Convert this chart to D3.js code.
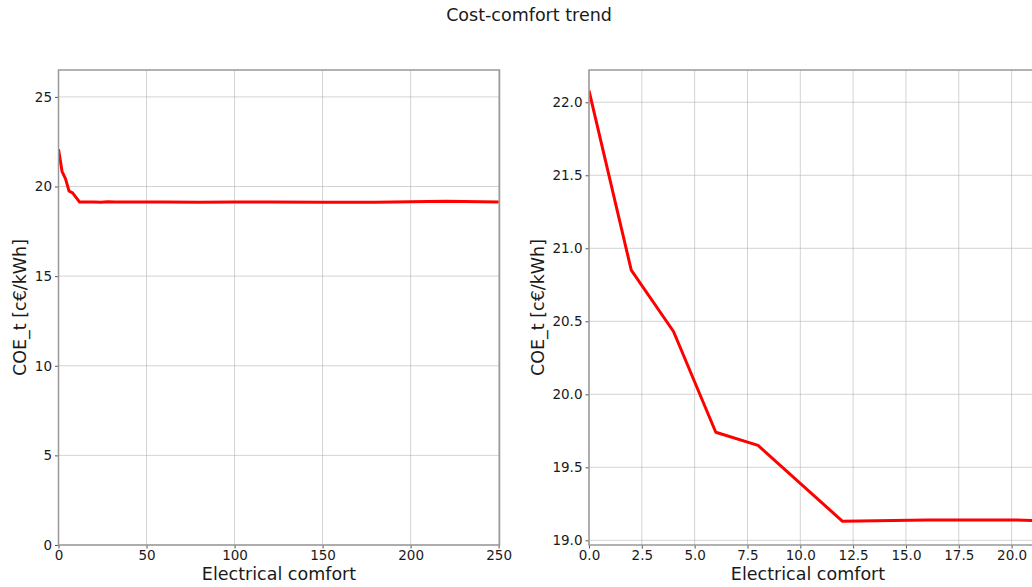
<!DOCTYPE html>
<html>
<head>
<meta charset="utf-8">
<script src="https://cdn.jsdelivr.net/npm/d3@7"></script>
<style>
body { margin: 0; background: #fff; overflow: hidden; }
svg text { font-family: "DejaVu Sans", sans-serif; fill: #1a1a1a; }
.grid line { stroke: #b0b0b0; stroke-opacity: 0.7; stroke-width: 0.8; }
.axis path { display: none; }
.axis line { stroke: #555; }
.axis text { font-size: 13.5px; }
</style>
</head>
<body>
<div id="chart"></div>
<script>
// comfort levels and cost of energy
var comfort = [0, 2, 4, 6, 8, 12, 16, 20, 24, 28, 32, 40, 50, 60, 80, 100, 120, 150, 180, 200, 220, 250];
var coe = [22.08, 20.85, 20.43, 19.74, 19.65, 19.13, 19.14, 19.14, 19.12, 19.15, 19.14, 19.13, 19.13, 19.13, 19.12, 19.13, 19.13, 19.12, 19.12, 19.15, 19.18, 19.13];

var leftXTicks = [0, 50, 100, 150, 200, 250];
var leftYTicks = [0, 5, 10, 15, 20, 25];
var rightXTicks = [0, 2.5, 5, 7.5, 10, 12.5, 15, 17.5, 20];
var rightYTicks = [19.0, 19.5, 20.0, 20.5, 21.0, 21.5, 22.0];

var W = 1032, H = 587;
var svg = d3.select('#chart').append('svg')
	.attr('width', W)
	.attr('height', H);

svg.append('text')
	.attr('x', 529)
	.attr('y', 21)
	.attr('text-anchor', 'middle')
	.style('font-size', '17.5px')
	.text('Cost-comfort trend');

var data = comfort.map(function(c, i) { return {x: c, y: coe[i]}; });

function panel(opt) {
	var scaleX = d3.scaleLinear().domain(opt.xDomain).range([0, opt.w]);
	var scaleY = d3.scaleLinear().domain(opt.yDomain).range([opt.h, 0]);

	var g = svg.append('g')
		.attr('transform', 'translate(' + opt.l + ',' + opt.t + ')');

	g.append('clipPath').attr('id', opt.id)
		.append('rect').attr('width', opt.w).attr('height', opt.h);

	// grid
	var grid = g.append('g').attr('class', 'grid');
	grid.selectAll('.gx').data(opt.xTicks).enter().append('line')
		.attr('x1', function(d) { return scaleX(d); })
		.attr('x2', function(d) { return scaleX(d); })
		.attr('y1', 0).attr('y2', opt.h);
	grid.selectAll('.gy').data(opt.yTicks).enter().append('line')
		.attr('y1', function(d) { return scaleY(d); })
		.attr('y2', function(d) { return scaleY(d); })
		.attr('x1', 0).attr('x2', opt.w);

	var axisX = d3.axisBottom(scaleX)
		.tickValues(opt.xTicks)
		.tickSize(3.5)
		.tickPadding(2)
		.tickFormat(opt.xFmt);
	var axisY = d3.axisLeft(scaleY)
		.tickValues(opt.yTicks)
		.tickSize(3.5)
		.tickPadding(3)
		.tickFormat(opt.yFmt);

	g.append('g').attr('class', 'axis')
		.attr('transform', 'translate(0,' + opt.h + ')')
		.call(axisX)
		.selectAll('text').style('fill', '#1a1a1a');
	g.append('g').attr('class', 'axis')
		.call(axisY)
		.selectAll('text').style('fill', '#1a1a1a');

	var line = d3.line()
		.x(function(d) { return scaleX(d.x); })
		.y(function(d) { return scaleY(d.y); });

	g.append('path')
		.datum(data)
		.attr('clip-path', 'url(#' + opt.id + ')')
		.attr('d', line)
		.style('fill', 'none')
		.style('stroke', '#ff0000')
		.style('stroke-width', 3)
		.style('stroke-linejoin', 'round');

	// frame
	g.append('rect')
		.attr('width', opt.w).attr('height', opt.h)
		.style('fill', 'none')
		.style('stroke', '#999')
		.style('stroke-width', 1.5);

	g.append('text')
		.attr('x', opt.w / 2 + (opt.labelShift || 0))
		.attr('y', opt.h + 35)
		.attr('text-anchor', 'middle')
		.style('font-size', '17.5px')
		.text('Electrical comfort');

	g.append('text')
		.attr('transform', 'translate(' + opt.yLabelX + ',' + (opt.h / 2) + ') rotate(-90)')
		.attr('text-anchor', 'middle')
		.style('font-size', '17.5px')
		.text('COE_t [c€/kWh]');
}

panel({
	id: 'clipL', l: 58.5, t: 70, w: 441, h: 475,
	xDomain: [0, 250.5], yDomain: [0, 26.5],
	xTicks: leftXTicks, yTicks: leftYTicks,
	xFmt: d3.format('d'), yFmt: d3.format('d'),
	yLabelX: -33
});

panel({
	id: 'clipR', l: 589, t: 70, w: 460, h: 475,
	xDomain: [0, 21.77], yDomain: [18.968, 22.221],
	xTicks: rightXTicks, yTicks: rightYTicks,
	xFmt: d3.format('.1f'), yFmt: d3.format('.1f'),
	yLabelX: -45, labelShift: -11
});
</script>
</body>
</html>
